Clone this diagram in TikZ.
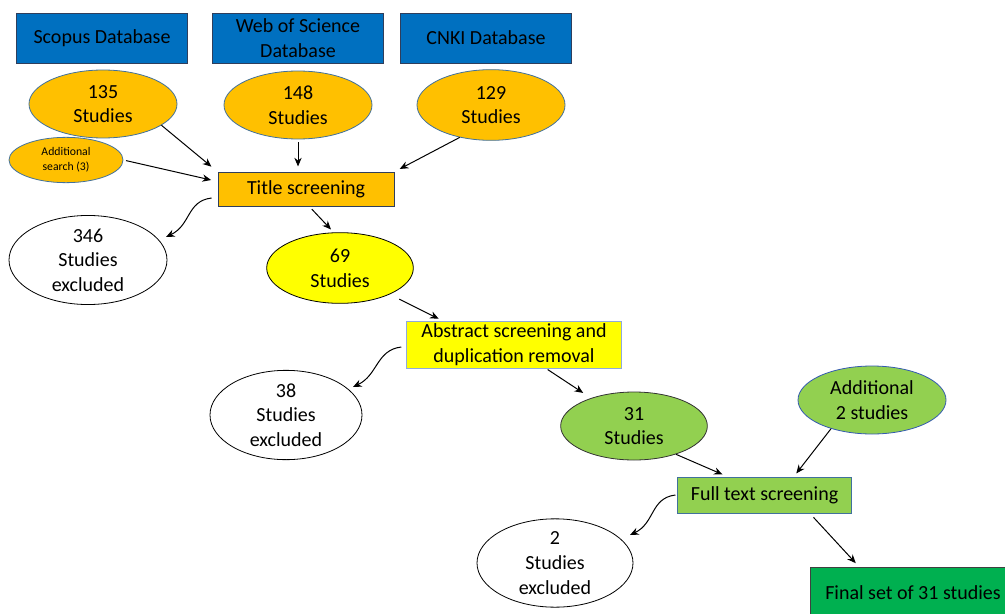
\documentclass[tikz,border=0pt]{standalone}
\usepackage{fontspec}
\setmainfont{Carlito}
\usepackage{tikz}
\usetikzlibrary{arrows.meta,positioning,calc,shapes.geometric}
\definecolor{DbBlue}{HTML}{0070C0}
\definecolor{GoldFill}{HTML}{FFC000}
\definecolor{YellowFill}{HTML}{FFFF00}
\definecolor{LimeFill}{HTML}{92D050}
\definecolor{FinalGreen}{HTML}{00B050}
\definecolor{EdgeBlue}{HTML}{41719C}
\definecolor{EdgeLight}{HTML}{8FAADC}
\definecolor{EdgeDark}{HTML}{2F3E5C}

\begin{document}
\begin{tikzpicture}[x=0.75pt, y=-0.75pt, line width=0.6pt,
    every node/.style={font=\fontsize{15}{18.5}\selectfont, align=center},
    dbbox/.style={draw=EdgeDark, fill=DbBlue, minimum width=128pt, minimum height=37.5pt, inner sep=1pt},
    stepbox/.style={draw=#1, minimum height=26pt, inner sep=2pt},
    found/.style={ellipse, draw=EdgeBlue, fill=GoldFill, minimum width=111pt, minimum height=51pt, inner sep=0pt},
    dropped/.style={ellipse, draw=black, fill=white, minimum width=117pt, minimum height=61pt, inner sep=0pt},
    flow/.style={-{Stealth[length=6.5pt,width=5.5pt]}, black, line width=0.75pt}]
  \useasboundingbox (0,0) rectangle (1005,613);
  \clip (0,0) rectangle (1005,613);

  % sources
  \node[dbbox] (scopus) at (102,38) {Scopus Database};
  \node[dbbox] (wos) at (298,38) {Web of Science\\Database};
  \node[dbbox] (cnki) at (486,38) {CNKI Database};

  \node[found] (s135) at (103,104) {135\\Studies};
  \node[found] (s148) at (298,105) {148\\Studies};
  \node[found, minimum height=53pt] (s129) at (491,105) {129\\Studies};
  \node[found, minimum width=85.5pt, minimum height=34pt, font=\fontsize{8.8}{11}\selectfont] (addsrch) at (66,160) {Additional\\search (3)};

  % screening steps
  \node[stepbox=EdgeDark, fill=GoldFill, minimum width=132pt] (title) at (306,189.5) {Title screening};
  \node[dropped, minimum width=118.5pt, minimum height=60pt] (ex346) at (88,260) {346\\Studies\\excluded};
  \node[ellipse, draw=black, fill=YellowFill, minimum width=110pt, minimum height=53pt, inner sep=0pt] (s69) at (340,268) {69\\Studies};

  \node[stepbox=EdgeLight, fill=YellowFill, minimum width=161pt, minimum height=34pt] (abstr) at (514,344.5) {Abstract screening and\\duplication removal};
  \node[dropped, minimum width=114pt] (ex38) at (286,415) {38\\Studies\\excluded};
  \node[ellipse, draw=black!80, fill=LimeFill, minimum width=110pt, minimum height=51pt, inner sep=0pt] (s31) at (634,426) {31\\Studies};
  \node[ellipse, draw=EdgeBlue!80!blue, fill=LimeFill, minimum width=111pt, minimum height=51pt, inner sep=0pt] (add2) at (872,400) {Additional\\2 studies};

  \node[stepbox=EdgeBlue, fill=LimeFill, minimum width=131pt, minimum height=27pt] (full) at (764.5,495) {Full text screening};
  \node[dropped] (ex2) at (555,563) {2\\Studies\\excluded};
  \node[draw=black!75, fill=FinalGreen, minimum width=154.5pt, minimum height=39pt] (final) at (913,593) {Final set of 31 studies};

  % arrows
  \draw[flow, shorten >=6pt] (s135.-20) -- (title.north west);
  \draw[flow, shorten <=2pt, shorten >=5pt] (addsrch.east) -- ([yshift=6pt]title.west);
  \draw[flow, shorten <=2pt, shorten >=4pt] (s148.south) -- (s148.south |- title.north);
  \draw[flow, shorten >=4.5pt] (s129.226) -- (title.north east);
  \draw[flow] ([shift={(-6,8.5)}]title.west) .. controls +(-25,3) and +(25,-12) .. ([shift={(78,-23)}]ex346.center);
  \draw[flow, shorten <=2pt, shorten >=3pt] ([xshift=3pt]title.south) -- (s69.100);

  \draw[flow, shorten <=8pt, shorten >=3pt] (s69.-28) -- ([xshift=27pt]abstr.north west);
  \draw[flow] ([shift={(-5,2.5)}]abstr.west) .. controls +(-25,3) and +(25,-12) .. ([shift={(67,-28)}]ex38.center);
  \draw[flow, shorten <=1.5pt, shorten >=7pt] ([xshift=24pt]abstr.south) -- (s31.147);

  \draw[flow, shorten >=4pt] (s31.-34) -- ([xshift=38pt]full.north west);
  \draw[flow, shorten >=3pt] (add2.215) -- ([xshift=22pt]full.north);
  \draw[flow] ([xshift=-1pt]full.west) .. controls +(-25,3) and +(25,-12) .. ([shift={(75,-28)}]ex2.center);
  \draw[flow, shorten <=4pt, shorten >=3.5pt] ([xshift=34pt]full.south) -- ([xshift=37pt]final.north west);
\end{tikzpicture}
\end{document}
